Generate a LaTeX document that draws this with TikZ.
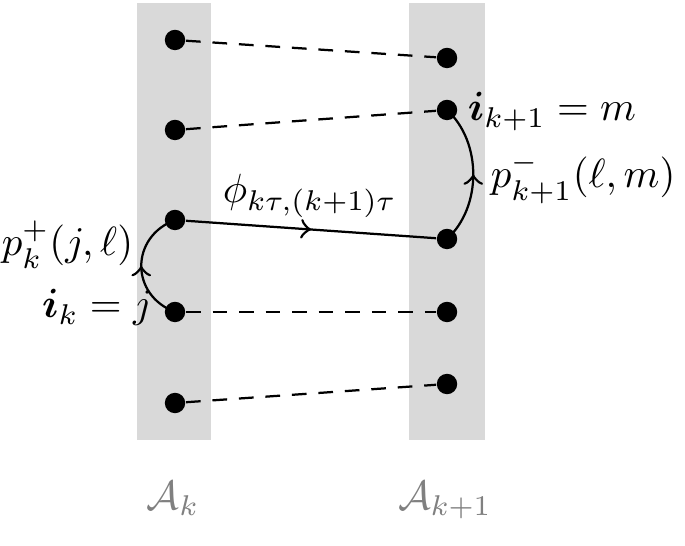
\documentclass[tikz,border=0pt]{standalone}
\usepackage{amsmath,amssymb}
\usetikzlibrary{decorations.markings}
\begin{document}
\begin{tikzpicture}[x=0.245pt,y=-0.245pt,
  band/.style={fill=black!15,draw=none},
  dot/.style={circle,fill=black,inner sep=0pt,minimum size=5pt},
  dashline/.style={dashed,dash pattern=on 3.6pt off 2.9pt,line width=0.55pt},
  solidline/.style={line width=0.55pt},
  midarrow/.style={postaction={decorate},decoration={markings,mark=at position 0.5 with {\arrow[scale=1.2]{to}}}},
  lbl/.style={inner sep=0pt},
  setlbl/.style={inner sep=0pt,text=black!50}]
\useasboundingbox (0,0) rectangle (685,545);
\fill[band] (137,3) rectangle (211,440);
\fill[band] (409,3) rectangle (485,440);
\node[dot] (l1) at (175,40) {};
\node[dot] (l2) at (175,130) {};
\node[dot] (l3) at (175,220) {};
\node[dot] (l4) at (175,312) {};
\node[dot] (l5) at (175,403) {};
\node[dot] (r1) at (447,58) {};
\node[dot] (r2) at (447,110) {};
\node[dot] (r3) at (447,239) {};
\node[dot] (r4) at (447,312) {};
\node[dot] (r5) at (447,384) {};
\draw[dashline] (l1) -- (r1);
\draw[dashline] (l2) -- (r2);
\draw[dashline] (l4) -- (r4);
\draw[dashline] (l5) -- (r5);
\draw[solidline,midarrow] (l3) -- (r3);
\draw[solidline,midarrow] (l4.center) .. controls (130,295) and (130,237) .. (l3.center);
\draw[solidline,midarrow] (r3.center) .. controls (482,207) and (482,142) .. (r2.center);
\node[lbl,anchor=base west] (phi) at (222,203) {$\phi_{k\tau,(k+1)\tau}$};
\node[lbl,anchor=base east] (pk) at (134,256) {$p_k^+(j,\ell)$};
\node[lbl,anchor=base east] (ik) at (153,318) {$\boldsymbol{i}_k = j$};
\node[lbl,anchor=base west] (ik1) at (467,121) {$\boldsymbol{i}_{k+1} = m$};
\node[lbl,anchor=base west] (pk1) at (490,188) {$p^-_{k+1}(\ell,m)$};
\node[setlbl,anchor=base] (ak) at (173,509) {$\mathcal{A}_k$};
\node[setlbl,anchor=base] (ak1) at (445,509) {$\mathcal{A}_{k+1}$};
\end{tikzpicture}
\end{document}
